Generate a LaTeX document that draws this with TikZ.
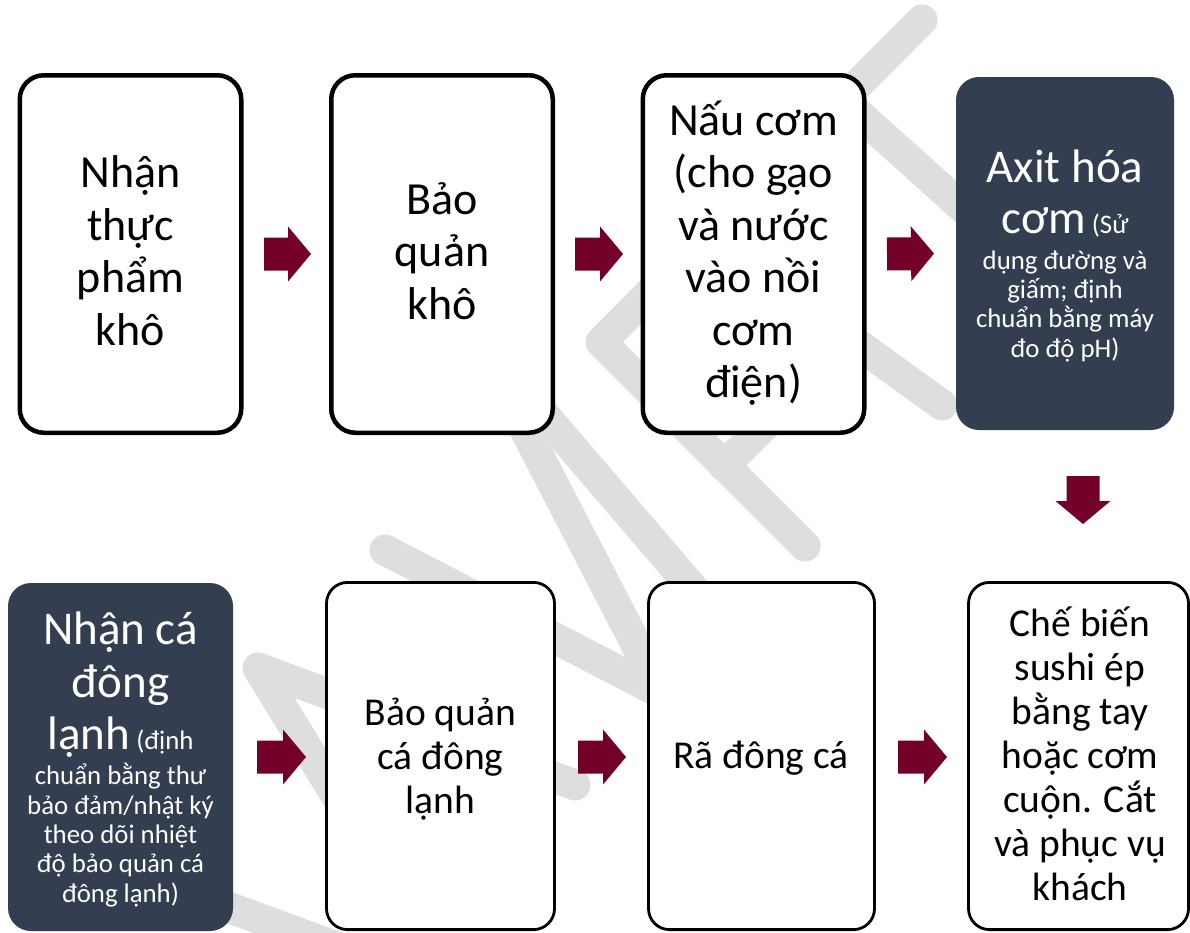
\documentclass[tikz,border=0pt]{standalone}
\usepackage{fontspec}
\setmainfont{Carlito}
\usetikzlibrary{calc}
\definecolor{darkbox}{RGB}{52,62,81}
\definecolor{arrowc}{RGB}{114,0,40}
\definecolor{wmark}{RGB}{222,222,222}
\newcommand\tzTop{\fontsize{46}{52.4}\selectfont\lineskiplimit=-100pt\relax}
\newcommand\tzBig{\fontsize{47}{52.5}\selectfont}
\newcommand\tzSmall{\fontsize{26.8}{29.3}\selectfont\lineskiplimit=-100pt\relax}
\newcommand\tzMid{\fontsize{39.5}{44}\selectfont\lineskiplimit=-100pt\relax}
\begin{document}
\begin{tikzpicture}[x=1pt,y=-1pt,
  wm/.style={wmark, line width=31pt, line cap=round, line join=round},
  wbox/.style={draw=black, fill=white, rounded corners=24pt, inner sep=0pt, outer sep=0pt,
    line width=4.5pt, minimum width=221.5pt, minimum height=357.5pt},
  wboxb/.style={draw=black, fill=white, rounded corners=21pt, inner sep=0pt, outer sep=0pt,
    line width=2.8pt, minimum height=347.2pt},
  dbox/.style={fill=darkbox, draw=none, rounded corners=23pt, inner sep=0pt, outer sep=0pt},
  txt/.style={anchor=base, align=center, inner sep=0pt, outer sep=0pt},
  blockarrow/.style={arrowc, to path={
    ($(\tikztostart)!16.5pt!-90:(\tikztotarget)$)
    -- ($($(\tikztotarget)!23pt!(\tikztostart)$)!16.5pt!90:(\tikztostart)$)
    -- ($($(\tikztotarget)!23pt!(\tikztostart)$)!27.5pt!90:(\tikztostart)$)
    -- (\tikztotarget)
    -- ($($(\tikztotarget)!23pt!(\tikztostart)$)!27.5pt!-90:(\tikztostart)$)
    -- ($($(\tikztotarget)!23pt!(\tikztostart)$)!16.5pt!-90:(\tikztostart)$)
    -- ($(\tikztostart)!16.5pt!90:(\tikztotarget)$)
    -- cycle}}
]
\useasboundingbox (0,0) rectangle (1190,932);
\fill[white] (0,0) rectangle (1190,932);

% watermark
\draw[wm] (922,20) -- (601,342) -- (805,546);
\draw[wm] (843,100) -- (1010,250);
\draw[wm] (708,236) -- (942,405);
\draw[wm] (724,466) -- (790,400);
\draw[wm] (520,420) -- (665,700);
\draw[wm] (540,410) -- (720,620);
\draw[wm] (385,550) -- (680,703);
\draw[wm] (575,785) -- (258,668) -- (345,810);
\draw[wm] (225,906) -- (345,950);

% boxes
\node[wbox] (b1) at (130.5,254) {};
\node[wbox] (b2) at (442,254) {};
\node[wbox] (b3) at (753.5,254) {};
\node[dbox, minimum width=218pt, minimum height=353pt] (b4) at (1065,253.5) {};
\node[dbox, minimum width=225pt, minimum height=348pt] (b5) at (120.5,757) {};
\node[wboxb, minimum width=228pt] (b6) at (440.5,756) {};
\node[wboxb, minimum width=226pt] (b7) at (761.5,756) {};
\node[wboxb, minimum width=220pt] (b8) at (1078.5,756) {};

% texts
\node[txt, font=\tzTop] (t1) at (130.5,345) {Nhận\\thực\\phẩm\\khô};
\node[txt, font=\tzTop] (t2) at (442,319) {Bảo\\quản\\khô};
\node[txt, font=\tzTop] (t3) at (753.5,397.5) {Nấu cơm\\(cho gạo\\và nước\\vào nồi\\cơm\\điện)};
\node[txt, font=\tzSmall, text=white] (t4) at (1065,357)
  {{\tzBig Axit hóa}\\[21.7pt]{\tzBig cơm} (Sử\\[6.7pt]dụng đường và\\giấm; định\\chuẩn bằng máy\\đo độ pH)};
\node[txt, font=\tzSmall, text=white] (t5) at (120.5,902)
  {{\tzBig Nhận cá}\\[23.2pt]{\tzBig đông}\\[23.2pt]{\tzBig lạnh} (định\\[5.7pt]chuẩn bằng thư\\bảo đảm/nhật ký\\theo dõi nhiệt\\độ bảo quản cá\\đông lạnh)};
\node[txt, font=\tzMid] (t6) at (440.5,813) {Bảo quản\\cá đông\\lạnh};
\node[txt, font=\tzMid] (t7) at (761,768) {Rã đông cá};
\node[txt, font=\tzMid] (t8) at (1080,900) {Chế biến\\sushi ép\\bằng tay\\hoặc cơm\\cuộn. Cắt\\và phục vụ\\khách};

% arrows
\fill[blockarrow] ([xshift=22.75pt]b1.east) to ([xshift=-20.25pt]b2.west);
\fill[blockarrow] ([xshift=22.25pt]b2.east) to ([xshift=-19.75pt]b3.west);
\fill[blockarrow] ([xshift=22.75pt]b3.east) to ([xshift=-22pt]b4.west);
\fill[blockarrow] ([xshift=18pt,yshift=-46pt]b4.south) to ([xshift=4.5pt,yshift=58.4pt]b8.north);
\fill[blockarrow] ([xshift=24pt]b5.east) to ([xshift=-20.5pt,yshift=-1pt]b6.west);
\fill[blockarrow] ([xshift=23.5pt,yshift=-1pt]b6.east) to ([xshift=-22.5pt,yshift=-1pt]b7.west);
\fill[blockarrow] ([xshift=23.5pt,yshift=-1pt]b7.east) to ([xshift=-21.5pt,yshift=-1pt]b8.west);
\end{tikzpicture}
\end{document}
